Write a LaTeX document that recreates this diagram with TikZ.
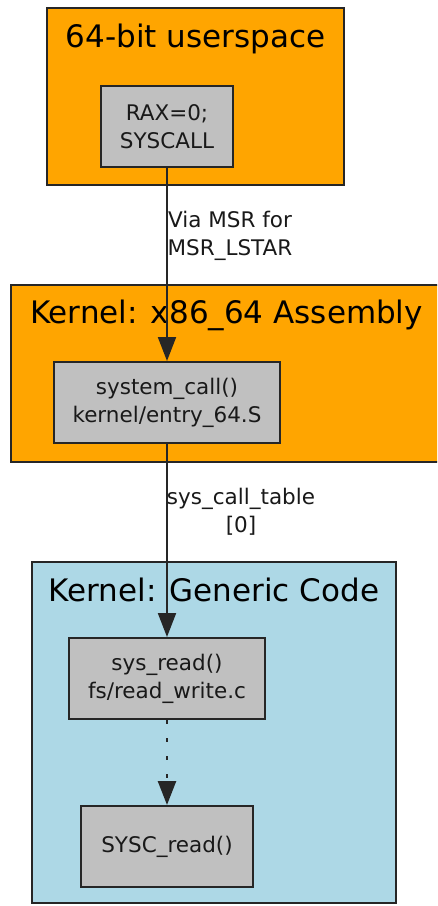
\documentclass[tikz,border=0pt]{standalone}
\usepackage{fontspec}
\setmainfont{DejaVu Sans}
\usetikzlibrary{arrows.meta}
\definecolor{gvorange}{HTML}{FFA500}
\definecolor{gvblue}{HTML}{ADD8E6}
\definecolor{gvgray}{HTML}{C0C0C0}
\definecolor{linec}{HTML}{262626}
\tikzset{
  cluster/.style={draw=linec, line width=2pt},
  title/.style={inner sep=0pt, font=\fontsize{31}{37}\selectfont, text=black},
  fn/.style={draw=linec, line width=2pt, fill=gvgray, minimum height=81pt, inner sep=0pt, align=center, font=\fontsize{21.5}{28}\selectfont, text=black!90},
  elabel/.style={inner sep=0pt, align=center, font=\fontsize{21.5}{28}\selectfont, text=black!90},
  edge/.style={draw=linec, line width=2pt, -{Triangle[width=18pt,length=24pt]}},
}
\begin{document}
\begin{tikzpicture}[x=1pt,y=-1pt]
\useasboundingbox (0,0) rectangle (437,906);
\clip (0,0) rectangle (437,906);
\fill[white] (0,0) rectangle (437,906);
% clusters
\draw[cluster, fill=gvorange] (47,8) rectangle (344,185);
\node[title] (t1) at (195.5,39) {64-bit userspace};
\draw[cluster, fill=gvorange] (11,285) rectangle (442,462);
\node[title] (t2) at (226.5,315) {Kernel: x86\_64 Assembly};
\draw[cluster, fill=gvblue] (32,562) rectangle (396,903);
\node[title] (t3) at (214,590) {Kernel: Generic Code};
% nodes
\node[fn, minimum width=132pt] (rax) at (167,126.5) {RAX=0;\\SYSCALL};
\node[fn, minimum width=226pt] (sc) at (167,402.5) {system\_call()\\kernel/entry\_64.S};
\node[fn, minimum width=196pt] (sr) at (167,678.5) {sys\_read()\\fs/read\_write.c};
\node[fn, minimum width=172pt] (sy) at (167,846.5) {SYSC\_read()};
% edges
\draw[edge] (rax.south) -- (sc.north);
\draw[edge] (sc.south) -- (sr.north);
\draw[edge, line width=2.5pt, dash pattern=on 4pt off 14pt] (sr.south) -- (sy.north);
% edge labels
\node[elabel] (l1) at (230,236) {Via MSR for\\MSR\_LSTAR};
\node[elabel] (l2) at (241,512) {sys\_call\_table\\{[0]}};
\end{tikzpicture}
\end{document}
